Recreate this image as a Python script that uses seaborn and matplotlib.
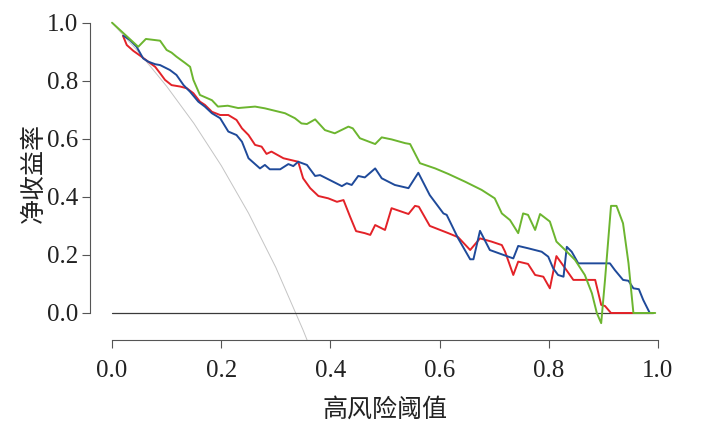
import pandas as pd
import matplotlib
matplotlib.use("Agg")
import matplotlib.pyplot as plt
import seaborn as sns

# 阈值与净收益率
green_x = [0.000, 0.048, 0.062, 0.088, 0.100, 0.109, 0.118, 0.134, 0.143, 0.149, 0.161, 0.183,
           0.194, 0.212, 0.231, 0.262, 0.280, 0.317, 0.335, 0.347, 0.357, 0.372, 0.390, 0.408,
           0.433, 0.441, 0.454, 0.482, 0.494, 0.512, 0.537, 0.546, 0.564, 0.592, 0.616, 0.647,
           0.677, 0.701, 0.714, 0.729, 0.744, 0.753, 0.762, 0.775, 0.784, 0.802, 0.814, 0.830,
           0.848, 0.866, 0.879, 0.888, 0.896, 0.903, 0.914, 0.924, 0.936, 0.946, 0.955, 0.995]
green_y = [1.000, 0.917, 0.944, 0.938, 0.906, 0.897, 0.883, 0.861, 0.848, 0.803, 0.751, 0.733,
           0.711, 0.714, 0.706, 0.711, 0.705, 0.688, 0.671, 0.653, 0.651, 0.667, 0.630, 0.619,
           0.642, 0.636, 0.602, 0.582, 0.605, 0.598, 0.585, 0.582, 0.516, 0.498, 0.479, 0.452,
           0.424, 0.395, 0.343, 0.320, 0.275, 0.343, 0.338, 0.286, 0.341, 0.315, 0.246, 0.217,
           0.183, 0.131, 0.068, 0.000, -0.035, 0.114, 0.369, 0.369, 0.309, 0.172, 0.000, 0.000]

blue_x = [0.021, 0.033, 0.045, 0.057, 0.066, 0.079, 0.088, 0.106, 0.118, 0.131, 0.143, 0.158,
          0.170, 0.183, 0.198, 0.213, 0.228, 0.238, 0.250, 0.271, 0.280, 0.289, 0.308, 0.323,
          0.332, 0.341, 0.357, 0.372, 0.381, 0.421, 0.430, 0.439, 0.451, 0.463, 0.482, 0.494,
          0.518, 0.543, 0.561, 0.582, 0.607, 0.613, 0.634, 0.656, 0.662, 0.674, 0.692, 0.717,
          0.735, 0.744, 0.762, 0.787, 0.799, 0.808, 0.817, 0.827, 0.833, 0.842, 0.854, 0.912,
          0.921, 0.936, 0.946, 0.955, 0.965, 0.973, 0.985]
blue_y = [0.955, 0.940, 0.917, 0.877, 0.866, 0.857, 0.854, 0.837, 0.820, 0.785, 0.762, 0.728,
          0.711, 0.688, 0.671, 0.625, 0.613, 0.590, 0.533, 0.498, 0.510, 0.495, 0.495, 0.513,
          0.506, 0.521, 0.510, 0.472, 0.475, 0.437, 0.447, 0.441, 0.472, 0.467, 0.498, 0.464,
          0.441, 0.430, 0.483, 0.406, 0.343, 0.338, 0.257, 0.185, 0.185, 0.283, 0.217, 0.200,
          0.188, 0.231, 0.223, 0.211, 0.194, 0.154, 0.131, 0.125, 0.228, 0.211, 0.171, 0.171,
          0.148, 0.114, 0.111, 0.085, 0.082, 0.045, 0.000]

red_x = [0.020, 0.027, 0.039, 0.054, 0.066, 0.079, 0.088, 0.097, 0.109, 0.125, 0.137, 0.149,
         0.161, 0.170, 0.183, 0.198, 0.213, 0.228, 0.238, 0.250, 0.262, 0.274, 0.283, 0.292,
         0.314, 0.341, 0.350, 0.363, 0.378, 0.396, 0.412, 0.424, 0.436, 0.447, 0.463, 0.473,
         0.482, 0.500, 0.512, 0.543, 0.555, 0.562, 0.582, 0.616, 0.634, 0.656, 0.674, 0.695,
         0.714, 0.720, 0.735, 0.744, 0.762, 0.775, 0.790, 0.802, 0.814, 0.830, 0.845, 0.885,
         0.896, 0.903, 0.914, 0.955]
red_y = [0.955, 0.923, 0.903, 0.883, 0.866, 0.848, 0.826, 0.803, 0.785, 0.780, 0.774, 0.757,
         0.728, 0.717, 0.693, 0.682, 0.682, 0.665, 0.636, 0.613, 0.579, 0.573, 0.548, 0.556,
         0.533, 0.521, 0.464, 0.430, 0.403, 0.395, 0.383, 0.389, 0.332, 0.282, 0.275, 0.269,
         0.303, 0.286, 0.361, 0.341, 0.369, 0.366, 0.300, 0.275, 0.261, 0.217, 0.257, 0.246,
         0.234, 0.211, 0.131, 0.177, 0.169, 0.131, 0.125, 0.085, 0.196, 0.154, 0.114, 0.114,
         0.028, 0.024, 0.000, 0.000]

# 全部干预 / 不干预参考线
all_x = [0.00, 0.05, 0.10, 0.15, 0.20, 0.25, 0.30, 0.35, 0.36]
all_y = [1.000, 0.896, 0.781, 0.653, 0.508, 0.344, 0.157, -0.059, -0.106]
none_x = [0.00, 0.99]
none_y = [0.0, 0.0]

parts = [("all", all_x, all_y), ("none", none_x, none_y),
         ("red", red_x, red_y), ("blue", blue_x, blue_y), ("green", green_x, green_y)]
df = pd.concat([pd.DataFrame({"阈值": x, "净收益率": y, "模型": name}) for name, x, y in parts],
               ignore_index=True)

sns.set_theme(style="white")
plt.rcParams['font.family'] = ['Liberation Serif', 'Noto Sans CJK SC', 'DejaVu Sans']

fig = plt.figure(figsize=(7.12, 4.36), dpi=100)
ax = fig.add_axes([90.2 / 712, 1 - 339.7 / 436, 589.6 / 712, 329.2 / 436])

palette = {"all": "#c4c4c4", "none": "#3a3a3a", "red": "#e32228",
           "blue": "#1f4a9a", "green": "#6cb52f"}
sizes = {"all": 0.7, "none": 0.9, "red": 1.4, "blue": 1.4, "green": 1.4}
for name, sub in df.groupby("模型", sort=False):
    sns.lineplot(data=sub, x="阈值", y="净收益率", color=palette[name], linewidth=sizes[name],
                 estimator=None, sort=False, ax=ax, legend=False)

ax.set_xlim(-0.04, 1.04)
ax.set_ylim(-0.092, 1.042)
ticks = [0.0, 0.2, 0.4, 0.6, 0.8, 1.0]
ax.set_xticks(ticks)
ax.set_yticks(ticks)
ax.set_xticklabels([f"{t:.1f}" for t in ticks])
ax.set_yticklabels([f"{t:.1f}" for t in ticks])

for s in ["top", "right"]:
    ax.spines[s].set_visible(False)
for s in ["left", "bottom"]:
    ax.spines[s].set_color("#555555")
    ax.spines[s].set_linewidth(0.8)
    ax.spines[s].set_bounds(0, 1)

ax.tick_params(axis="both", direction="out", length=5.5, width=0.8, color="#555555",
               labelsize=18, labelcolor="#222222", bottom=True, left=True)
ax.tick_params(axis="x", pad=9)
ax.tick_params(axis="y", pad=3)

ax.set_xlabel("高风险阈值", fontsize=18, color="#222222", va="center")
ax.set_ylabel("净收益率", fontsize=18, color="#222222", va="center")
ax.xaxis.set_label_coords(0.5, (339.7 - 410) / 329.2)
ax.yaxis.set_label_coords((34 - 90.2) / 589.6, (339.7 - 173) / 329.2)

plt.savefig("out.png", dpi=100)
plt.close()
